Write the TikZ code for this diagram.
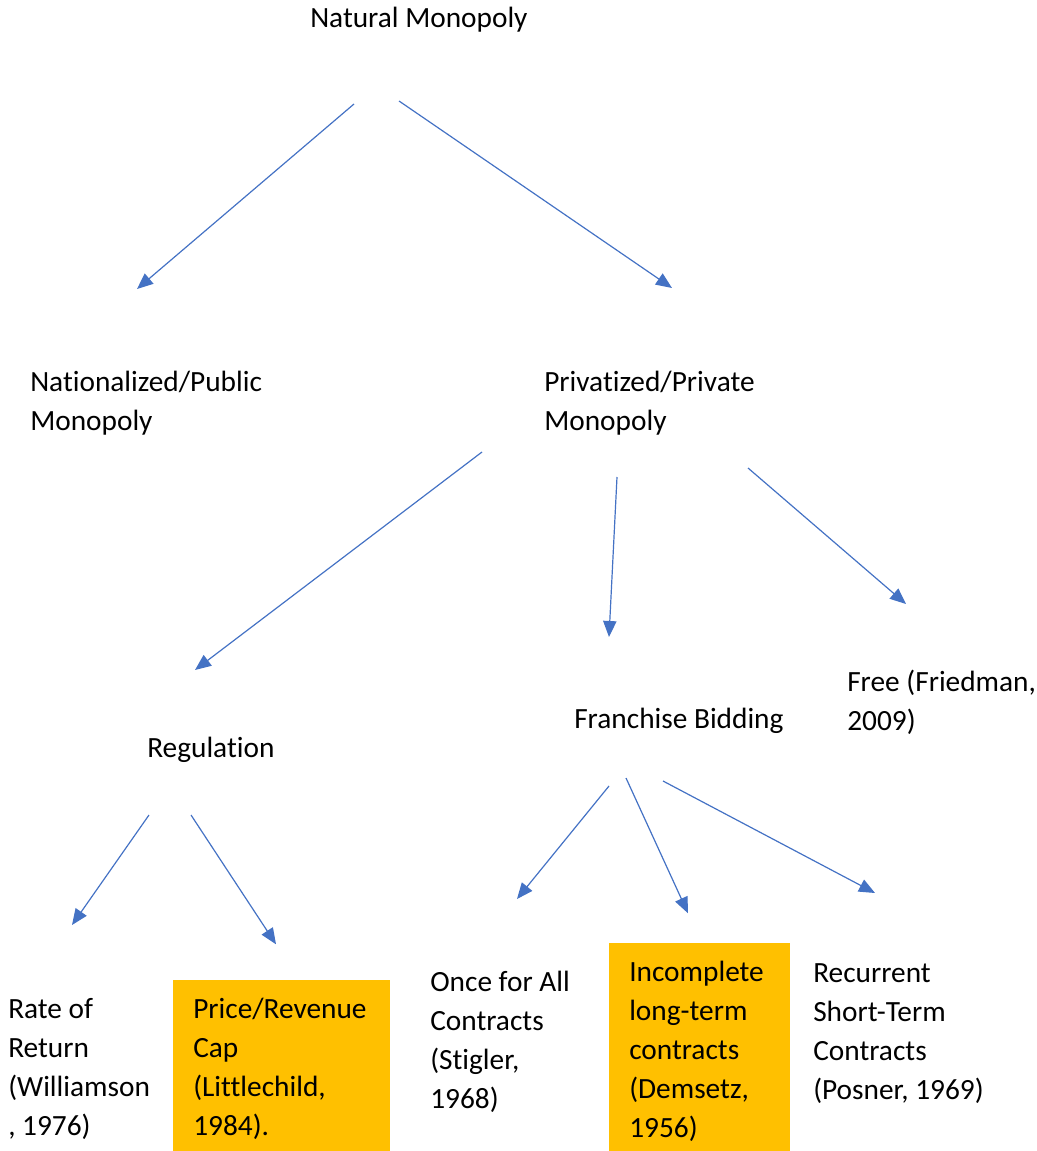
\documentclass[tikz,border=0pt]{standalone}
\usepackage{fontspec}
\setmainfont{Carlito}[Ligatures=NoCommon]
\usepackage{tikz}
\usetikzlibrary{arrows.meta}
\definecolor{LinkBlue}{HTML}{4472C4}
\definecolor{CapGold}{HTML}{FFC000}

\begin{document}
\begin{tikzpicture}[
  x=0.75pt, y=-0.75pt,
  leaf/.style={anchor=base west, inner sep=0pt, align=left,
               font=\fontsize{22pt}{29.25pt}\selectfont},
  hilite/.style={anchor=north west, fill=CapGold, inner xsep=15pt,
                 inner ysep=0pt, align=left, text height=28.5pt,
                 font=\fontsize{22pt}{29.25pt}\selectfont},
  link/.style={-{Triangle[length=12pt,width=10pt]}, line width=0.9pt,
               draw=LinkBlue}
]
\useasboundingbox (0,0) rectangle (1036,1151);
% leaf nodes sit on the baseline of their last line
\node[leaf] (nm) at (310,28) {Natural Monopoly};
\node[leaf] (pub) at (30,430) {Nationalized/Public\\Monopoly};
\node[leaf] (priv) at (544,430) {Privatized/Private\\Monopoly};
\node[leaf] (reg) at (147,757) {Regulation};
\node[leaf] (fb) at (574,728) {Franchise Bidding};
\node[leaf] (free) at (847,730) {Free (Friedman,\\2009)};
\node[leaf] (ror) at (8,1135) {Rate of\\Return\\(Williamson\\, 1976)};
\node[hilite, text width=132.75pt, text depth=99.75pt] (prc) at (173,980)
  {Price/Revenue\\Cap\\(Littlechild,\\1984).};
\node[leaf] (once) at (430,1108) {Once for All\\Contracts\\(Stigler,\\1968)};
\node[hilite, text width=105.75pt, text depth=127.5pt] (inc) at (609,943)
  {Incomplete\\long-term\\contracts\\(Demsetz,\\1956)};
\node[leaf] (rec) at (813,1099) {Recurrent\\Short-Term\\Contracts\\(Posner, 1969)};
\draw[link] ([shift={(44,76)}]nm.base west) -- ([shift={(107,-141)}]pub.base west);
\draw[link] ([shift={(89,73)}]nm.base west) -- ([shift={(128,-142)}]priv.base west);
\draw[link] ([shift={(-62,22)}]priv.base west) -- ([shift={(48,-87)}]reg.base west);
\draw[link] ([shift={(73,47)}]priv.base west) -- ([shift={(35,-91)}]fb.base west);
\draw[link] ([shift={(204,38)}]priv.base west) -- ([shift={(59,-126)}]free.base west);
\draw[link] ([shift={(2,58)}]reg.base west) -- ([shift={(64,-210)}]ror.base west);
\draw[link] ([shift={(44,58)}]reg.base west) -- ([shift={(103,-74)}]prc.base west);
\draw[link] ([shift={(35,58)}]fb.base west) -- ([shift={(87,-209)}]once.base west);
\draw[link] ([shift={(52,50)}]fb.base west) -- ([shift={(79,-68)}]inc.base west);
\draw[link] ([shift={(89,53)}]fb.base west) -- ([shift={(62,-206)}]rec.base west);
\end{tikzpicture}
\end{document}
